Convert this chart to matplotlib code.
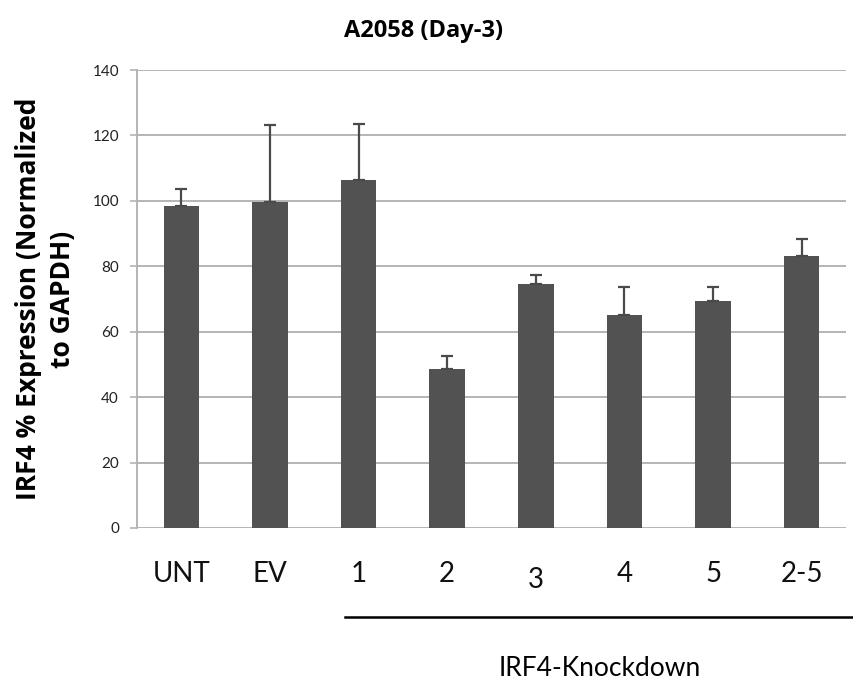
import matplotlib.pyplot as plt
import matplotlib.transforms as mtransforms
from matplotlib.lines import Line2D

# data
groups = ["UNT", "EV", "1", "2", "3", "4", "5", "2-5"]
expression = [98.5, 99.7, 106.3, 48.6, 74.7, 65.0, 69.3, 83.2]
err_up = [5.1, 23.5, 17.3, 4.0, 2.7, 8.6, 4.3, 5.0]

plt.rcParams['font.family'] = ['Lato', 'DejaVu Sans']
bold_font = ['Open Sans', 'DejaVu Sans']

fig = plt.figure(figsize=(8.54, 6.79), dpi=100)
ax = fig.add_axes([0.1604, 0.2224, 0.8302, 0.6745])

x = list(range(len(groups)))
ax.bar(x, expression, width=0.4, color='#525252', zorder=3)
ax.errorbar(x, expression, yerr=[[0] * len(err_up), err_up], fmt='none',
            ecolor='#4a4a4a', elinewidth=1.6, capsize=4.5, capthick=1.6, zorder=4)

ax.set_xlim(-0.5, len(groups) - 0.5)
ax.set_ylim(0, 140)
ax.set_yticks(range(0, 141, 20))
ax.yaxis.grid(True, color='#b4b4b4', linewidth=1.4, zorder=0)
ax.set_axisbelow(True)

for side in ['top', 'right', 'bottom']:
    ax.spines[side].set_visible(False)
ax.spines['left'].set_color('#b4b4b4')
ax.spines['left'].set_linewidth(1.4)

ax.tick_params(axis='y', length=5, width=1.2, color='#b4b4b4', pad=8,
               labelsize=11, labelcolor='#222222')

ax.set_xticks(x)
ax.set_xticklabels(groups, fontsize=20, color='#111111')
ax.tick_params(axis='x', length=0, pad=24)
# the "3" label sits a little lower in the original
lbl3 = ax.get_xticklabels()[4]
lbl3.set_transform(lbl3.get_transform() + mtransforms.ScaledTranslation(0, -6 / 100, fig.dpi_scale_trans))

ax.set_ylabel("IRF4 % Expression (Normalized\nto GAPDH)", fontsize=19,
              fontweight='bold', family=bold_font, labelpad=12, linespacing=1.3)
fig.text(0.496, 0.955, "A2058 (Day-3)", ha='center', va='center',
         fontsize=17, fontweight='bold', family=bold_font)

# group bracket under the knockdown samples
fig.add_artist(Line2D([345 / 854, 1.0], [1 - 617 / 679] * 2,
                      color='black', linewidth=1.8))
fig.text(0.702, 1 - 668 / 679, "IRF4-Knockdown", ha='center', va='center', fontsize=19)

fig.savefig("out.png", dpi=100)
